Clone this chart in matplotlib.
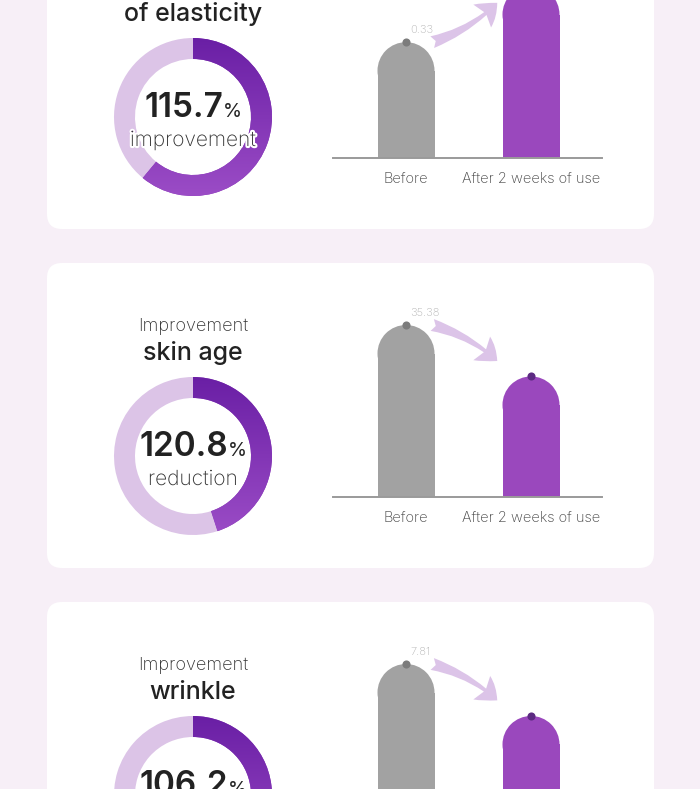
import numpy as np
import matplotlib
matplotlib.use("Agg")
import matplotlib.pyplot as plt
import matplotlib.patheffects as pe
from matplotlib.patches import FancyBboxPatch, Ellipse
from matplotlib.colors import LinearSegmentedColormap

plt.rcParams['font.family'] = ['Inter', 'DejaVu Sans']

# chart values, one entry per card (top to bottom)
titles_top = ["Improvement", "Improvement", "Improvement"]
titles_main = ["of elasticity", "skin age", "wrinkle"]
pct_values = ["115.7", "120.8", "106.2"]
pct_words = ["improvement", "reduction", "reduction"]
donut_share = [0.61, 0.45, 0.46]
categories = ["Before", "After 2 weeks of use"]
before_vals = [0.33, 35.38, 7.81]
after_vals = [0.49, 24.8, 5.45]

# colours
BG = '#f7eff7'
GREY_BAR = '#a2a2a2'
GREY_DOT = '#7c7c7c'
PURPLE_BAR = '#9a48bd'
PURPLE_DOT = '#5c2a82'
RING_LIGHT = '#dcc4e7'
ARROW = '#dcc4e8'
ring_cmap = LinearSegmentedColormap.from_list('ring', ['#9b4cc6', '#6a1fa5'])

W, H = 700, 789
fig = plt.figure(figsize=(W / 100, H / 100), dpi=100)
fig.patch.set_facecolor(BG)

# background axes in pixel units (cards + titles)
bg = fig.add_axes([0, 0, 1, 1])
bg.set_xlim(0, W)
bg.set_ylim(H, 0)
bg.axis('off')
bg.set_zorder(0)


def frac_rect(left, top, width, height):
    return [left / W, 1 - (top + height) / H, width / W, height / H]


renderer = fig.canvas.get_renderer()
cx = 193  # donut centre x
R = 79    # donut outer radius (px)
bar_h_px = 172

for i in range(3):
    T = -76 + 339 * i

    card = FancyBboxPatch((47, T), 607, 305,
                          boxstyle="round,pad=0,rounding_size=15",
                          facecolor='white', edgecolor='none')
    bg.add_patch(card)

    # titles
    bg.text(cx, T + 68, titles_top[i], ha='center', va='baseline',
            fontsize=13, fontweight='light', color='#333333')
    bg.text(cx, T + 97, titles_main[i], ha='center', va='baseline',
            fontsize=18, fontweight='medium', color='#222222')

    # donut
    dax = fig.add_axes(frac_rect(cx - R, T + 193 - R, 2 * R, 2 * R))
    dax.set_zorder(1)
    share = donut_share[i]
    wedges, _ = dax.pie([share, 1 - share], colors=['#8a3cb8', RING_LIGHT],
                        startangle=90, counterclock=False, radius=1,
                        wedgeprops=dict(width=21 / R, edgecolor='none'))
    grad = np.linspace(0, 1, 256).reshape(-1, 1)
    im = dax.imshow(grad, extent=(-1, 1, -1, 1), origin='lower',
                    cmap=ring_cmap, aspect='auto', zorder=3)
    im.set_clip_path(wedges[0])
    dax.set_xlim(-1, 1)
    dax.set_ylim(-1, 1)
    dax.axis('off')

    # bar chart
    bax = fig.add_axes(frac_rect(333, T + 234 - bar_h_px, 269, bar_h_px))
    bax.set_zorder(1)
    bax.patch.set_alpha(0)
    vals = [before_vals[i], after_vals[i]]
    ymax = max(vals)
    bax.set_xlim(-0.584, 1.568)
    bax.set_ylim(0, ymax)
    bw = 0.456
    ry = 28.5 / bar_h_px * ymax
    for x, v, c, dc in zip([0, 1], vals, [GREY_BAR, PURPLE_BAR],
                           [GREY_DOT, PURPLE_DOT]):
        bax.bar(x, v - ry, width=bw, color=c, edgecolor='none', zorder=2)
        bax.add_patch(Ellipse((x, v - ry), bw, 2 * ry, facecolor=c,
                              edgecolor='none', zorder=2, clip_on=False))
        bax.scatter([x], [v], s=34, color=dc, zorder=4, clip_on=False,
                    linewidths=0)

    b, a = vals
    bax.annotate(f"{b:g}", (0, b), xytext=(3, 5), textcoords='offset points',
                 ha='left', va='bottom', fontsize=8, color='#b5b5b5',
                 fontweight='light', annotation_clip=False)
    rad = 0.12 if a > b else -0.12
    bax.annotate('', xy=(0.73, b + 0.7 * (a - b)), xytext=(0.21, b),
                 annotation_clip=False,
                 arrowprops=dict(arrowstyle='fancy,head_length=0.9,head_width=1.3,tail_width=0.55',
                                 mutation_scale=16, color=ARROW, lw=0,
                                 shrinkA=0, shrinkB=0,
                                 connectionstyle=f'arc3,rad={rad}'))

    bax.set_xticks([0, 1], categories)
    bax.set_yticks([])
    bax.tick_params(axis='x', length=0, pad=10, labelsize=10.5,
                    labelcolor='#444444')
    for lbl in bax.get_xticklabels():
        lbl.set_fontweight('light')
    for s in ['top', 'left', 'right']:
        bax.spines[s].set_visible(False)
    bax.spines['bottom'].set_color('#9a9a9a')
    bax.spines['bottom'].set_linewidth(1.4)

# text layer above the donuts
txt_ax = fig.add_axes([0, 0, 1, 1])
txt_ax.set_xlim(0, W)
txt_ax.set_ylim(H, 0)
txt_ax.axis('off')
txt_ax.set_zorder(3)
for i in range(3):
    T = -76 + 339 * i
    t1 = txt_ax.text(0, T + 193, pct_values[i], ha='left', va='baseline',
                     fontsize=24, fontweight='semibold', color='#222222')
    t2 = txt_ax.text(0, T + 193, '%', ha='left', va='baseline',
                     fontsize=14, color='#222222')
    w1 = t1.get_window_extent(renderer).width
    w2 = t2.get_window_extent(renderer).width
    x0 = cx - (w1 + w2) / 2
    t1.set_x(x0)
    t2.set_x(x0 + w1)
    txt_ax.text(cx, T + 222, pct_words[i], ha='center', va='baseline',
                fontsize=15, fontweight='light', color='#333333',
                path_effects=[pe.withStroke(linewidth=3, foreground='white')])

fig.savefig('out.png', dpi=100, facecolor=BG)
